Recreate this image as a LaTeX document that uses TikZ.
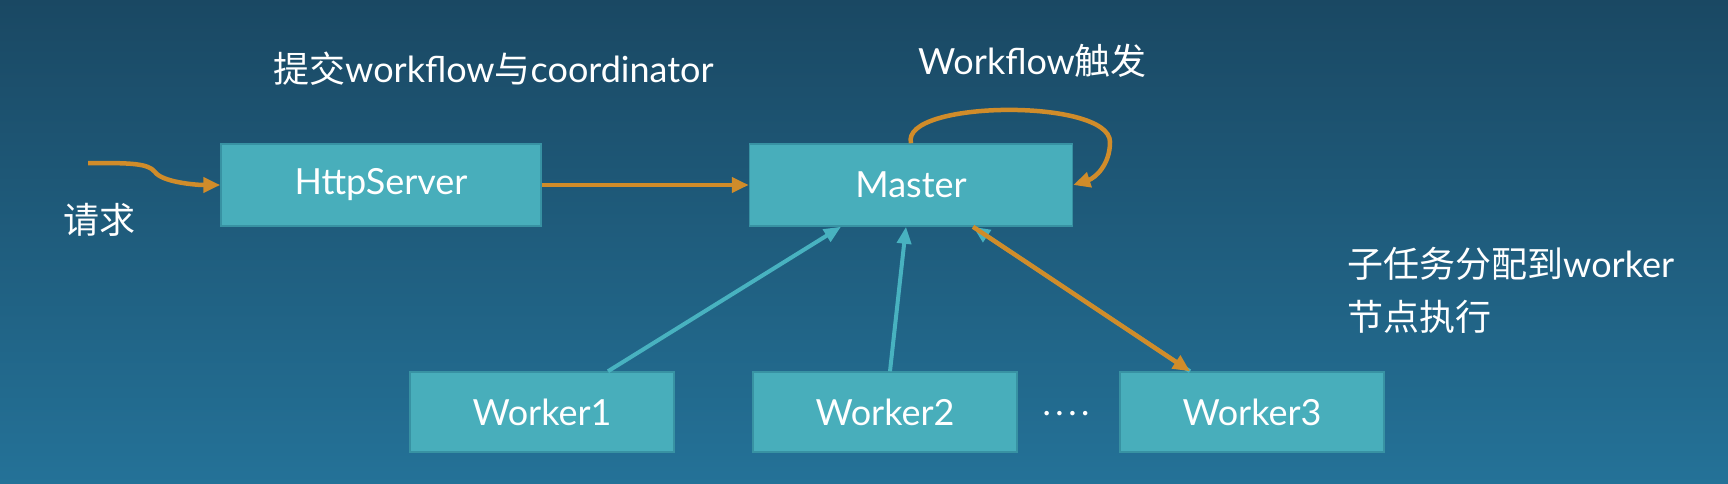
\documentclass[tikz,border=0pt]{standalone}
\usepackage{fontspec}
\setmainfont{Lato}
\newfontfamily\cjk{Noto Sans CJK SC}
\usetikzlibrary{arrows.meta,calc}
\definecolor{bgtop}{RGB}{26,72,99}
\definecolor{bgbot}{RGB}{36,114,152}
\definecolor{boxfill}{RGB}{72,174,187}
\definecolor{boxline}{RGB}{56,146,163}
\definecolor{flow}{RGB}{208,140,42}
\definecolor{link}{RGB}{72,178,192}
\tikzset{
BOX/.style ={draw=boxline,fill=boxfill,line width=1.5pt,minimum height=82pt,text=white,font=\fontsize{36}{40}\selectfont},
FLOW/.style ={draw=flow,line width=4.5pt,-{Triangle[length=17pt,width=15pt]}},
LINK/.style ={draw=link,line width=4pt,-{Triangle[length=17pt,width=14pt]}},
LABEL/.style={text=white,inner sep=0pt,font=\fontsize{36}{53}\selectfont},
}

\begin{document}
\begin{tikzpicture}[x=1pt,y=-1pt] %workflow cluster
	% background
	\shade[top color=bgtop,bottom color=bgbot] (0,0) rectangle (1728,484);
	\useasboundingbox (0,0) rectangle (1728,484);
	% boxes
	\node[BOX,minimum width=320pt] (http) at (381,185) {HttpServer};
	\node[BOX,minimum width=323pt] (master) at (911,185) {Master};
	\node[BOX,minimum width=264pt,minimum height=80pt] (w1) at (542,412) {Worker1};
	\node[BOX,minimum width=264pt,minimum height=80pt] (w2) at (885,412) {Worker2};
	\node[BOX,minimum width=264pt,minimum height=80pt] (w3) at (1252,412) {Worker3};
	\node[LABEL,font=\fontsize{30}{30}\selectfont] (dots) at (1066,417) {·\hspace{5pt}·\hspace{5pt}·\hspace{5pt}·};
	% request in
	\coordinate (req) at (88,163);
	\path[FLOW] (req) .. controls (130,163) and (148,163) .. (155,172) .. controls (162,182) and (195,185) .. (http.west);
	\path[FLOW] (http.east) -- (master.west);
	% self loop
	\coordinate (loop) at (1110,142);
	\path[FLOW] (master.north) .. controls (900,100) and (1110,98) .. (loop) .. controls (1110,165) and (1095,178) .. (master.east);
	% workers
	\path[LINK] ($(w1.north)+(66,0)$) -- ($(master.south)+(-70,0)$);
	\path[LINK] ($(w2.north)+(5,0)$) -- ($(master.south)+(-5,0)$);
	\path[LINK] ($(w3.north)+(-62,0)$) -- ($(master.south)+(62,0)$);
	\path[FLOW] ($(master.south)+(62,0)$) -- ($(w3.north)+(-62,0)$);
	% texts
	\node[LABEL] (reqtext) at (99,220) {\cjk 请求};
	\node[LABEL,anchor=west] (submit) at (273,69) {{\cjk 提交}workflow{\cjk 与}coordinator};
	\node[LABEL,anchor=west] (trigger) at (918,61) {Workflow{\cjk 触发}};
	\node[LABEL,anchor=north west,align=left] (assign) at (1347,247) {{\cjk 子任务分配到}worker\\{\cjk 节点执行}};
\end{tikzpicture}
\end{document}
